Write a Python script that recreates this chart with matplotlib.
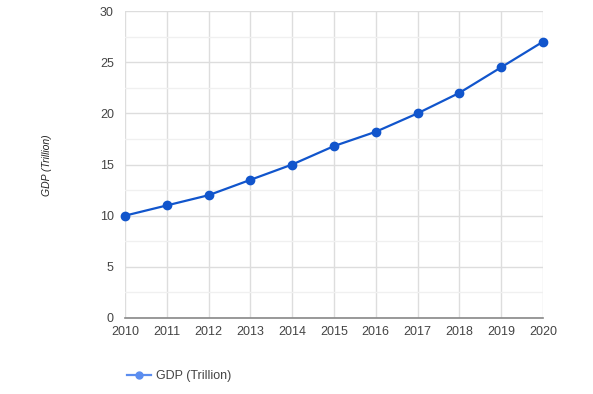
import matplotlib
matplotlib.use("Agg")
import matplotlib.pyplot as plt
from matplotlib.lines import Line2D

years = [2010, 2011, 2012, 2013, 2014, 2015, 2016, 2017, 2018, 2019, 2020]
gdp = [10, 11, 12, 13.5, 15, 16.8, 18.2, 20, 22, 24.5, 27]
y_ticks = [0, 5, 10, 15, 20, 25, 30]
series_name = "GDP (Trillion)"
y_label = "GDP (Trillion)"

plt.rcParams['font.family'] = ['Liberation Sans', 'DejaVu Sans']

fig = plt.figure(figsize=(5.93, 3.94), dpi=100)
ax = fig.add_axes([125/593, 76/394, 418/593, 307/394])

line_color = '#1155cc'
ax.plot(years, gdp, color=line_color, lw=1.6, marker='o', ms=6, zorder=3, clip_on=False)

ax.set_xlim(years[0], years[-1])
ax.set_ylim(0, 30)
ax.set_xticks(years)
ax.set_yticks(y_ticks)
ax.set_yticks([2.5, 7.5, 12.5, 17.5, 22.5, 27.5], minor=True)
ax.grid(True, which='major', color='#dddddd', lw=1, zorder=0)
ax.grid(True, which='minor', axis='y', color='#f0f0f0', lw=1, zorder=0)
for s in ['top', 'right', 'left']:
    ax.spines[s].set_visible(False)
ax.spines['bottom'].set_color('#888888')
ax.spines['bottom'].set_linewidth(1.2)
ax.tick_params(which='both', length=0, labelsize=9, colors='#444444', pad=6)
ax.tick_params(axis='y', pad=8)
ax.set_axisbelow(True)

fig.text(47/593, 1 - 165/394, y_label, rotation=90, style='italic', fontsize=7.5,
         color='#222222', ha='center', va='center')

handle = Line2D([0], [0], color='#5b8def', lw=1.6, marker='o', ms=5)
leg = fig.legend([handle], [series_name], loc='center left',
                 bbox_to_anchor=(116/593, 1 - 376/394), frameon=False,
                 fontsize=9, handlelength=1.9, handletextpad=0.4)
for t in leg.get_texts():
    t.set_color('#444444')

fig.savefig('out.png', dpi=100)
